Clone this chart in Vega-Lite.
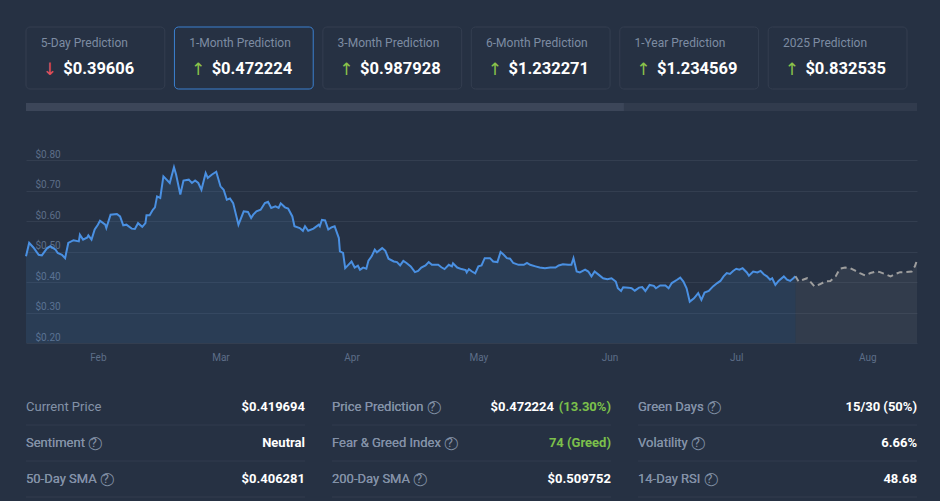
{
  "$schema": "https://vega.github.io/schema/vega-lite/v6.json",
  "background": "#263143",
  "padding": {"left": 22, "top": 26, "right": 23, "bottom": 5},
  "bounds": "flush",
  "spacing": 14,
  "config": {
    "view": {"stroke": null},
    "font": "Roboto",
    "text": {"font": "Roboto"},
    "axis": {"labelFont": "Roboto"}
  },
  "datasets": {
    "cards": [
      {"i": 0, "label": "5-Day Prediction", "value": "$0.39606", "trend": "down", "active": false},
      {"i": 1, "label": "1-Month Prediction", "value": "$0.472224", "trend": "up", "active": true},
      {"i": 2, "label": "3-Month Prediction", "value": "$0.987928", "trend": "up", "active": false},
      {"i": 3, "label": "6-Month Prediction", "value": "$1.232271", "trend": "up", "active": false},
      {"i": 4, "label": "1-Year Prediction", "value": "$1.234569", "trend": "up", "active": false},
      {"i": 5, "label": "2025 Prediction", "value": "$0.832535", "trend": "up", "active": false}
    ],
    "progress": [{"progress": 0.671}],
    "history": [
      {"date": "2024-01-15T00:00", "price": 0.485},
      {"date": "2024-01-15T18:00", "price": 0.529},
      {"date": "2024-01-16T18:00", "price": 0.514},
      {"date": "2024-01-18T00:00", "price": 0.490},
      {"date": "2024-01-18T18:00", "price": 0.488},
      {"date": "2024-01-20T00:00", "price": 0.512},
      {"date": "2024-01-20T18:00", "price": 0.518},
      {"date": "2024-01-22T00:00", "price": 0.507},
      {"date": "2024-01-22T12:00", "price": 0.496},
      {"date": "2024-01-23T12:00", "price": 0.490},
      {"date": "2024-01-24T06:00", "price": 0.479},
      {"date": "2024-01-25T00:00", "price": 0.529},
      {"date": "2024-01-26T06:00", "price": 0.538},
      {"date": "2024-01-27T12:00", "price": 0.534},
      {"date": "2024-01-27T18:00", "price": 0.556},
      {"date": "2024-01-28T12:00", "price": 0.540},
      {"date": "2024-01-29T12:00", "price": 0.547},
      {"date": "2024-01-29T18:00", "price": 0.554},
      {"date": "2024-01-30T12:00", "price": 0.540},
      {"date": "2024-01-31T06:00", "price": 0.573},
      {"date": "2024-02-01T00:00", "price": 0.589},
      {"date": "2024-02-01T12:00", "price": 0.602},
      {"date": "2024-02-02T18:00", "price": 0.589},
      {"date": "2024-02-03T00:00", "price": 0.578},
      {"date": "2024-02-04T00:00", "price": 0.622},
      {"date": "2024-02-05T12:00", "price": 0.624},
      {"date": "2024-02-06T06:00", "price": 0.616},
      {"date": "2024-02-07T00:00", "price": 0.587},
      {"date": "2024-02-07T18:00", "price": 0.589},
      {"date": "2024-02-09T00:00", "price": 0.576},
      {"date": "2024-02-09T18:00", "price": 0.575},
      {"date": "2024-02-10T12:00", "price": 0.594},
      {"date": "2024-02-11T12:00", "price": 0.582},
      {"date": "2024-02-12T06:00", "price": 0.594},
      {"date": "2024-02-12T12:00", "price": 0.620},
      {"date": "2024-02-13T06:00", "price": 0.620},
      {"date": "2024-02-14T00:00", "price": 0.638},
      {"date": "2024-02-14T12:00", "price": 0.646},
      {"date": "2024-02-15T00:00", "price": 0.682},
      {"date": "2024-02-15T18:00", "price": 0.677},
      {"date": "2024-02-16T12:00", "price": 0.748},
      {"date": "2024-02-17T06:00", "price": 0.737},
      {"date": "2024-02-18T00:00", "price": 0.726},
      {"date": "2024-02-19T00:00", "price": 0.778},
      {"date": "2024-02-19T12:00", "price": 0.754},
      {"date": "2024-02-20T12:00", "price": 0.688},
      {"date": "2024-02-21T06:00", "price": 0.734},
      {"date": "2024-02-22T12:00", "price": 0.737},
      {"date": "2024-02-23T06:00", "price": 0.726},
      {"date": "2024-02-24T00:00", "price": 0.734},
      {"date": "2024-02-24T18:00", "price": 0.726},
      {"date": "2024-02-25T12:00", "price": 0.704},
      {"date": "2024-02-26T12:00", "price": 0.759},
      {"date": "2024-02-27T00:00", "price": 0.743},
      {"date": "2024-02-28T00:00", "price": 0.754},
      {"date": "2024-02-29T00:00", "price": 0.763},
      {"date": "2024-03-01T00:00", "price": 0.715},
      {"date": "2024-03-01T18:00", "price": 0.704},
      {"date": "2024-03-02T12:00", "price": 0.671},
      {"date": "2024-03-03T06:00", "price": 0.675},
      {"date": "2024-03-04T00:00", "price": 0.660},
      {"date": "2024-03-05T06:00", "price": 0.589},
      {"date": "2024-03-06T12:00", "price": 0.633},
      {"date": "2024-03-07T12:00", "price": 0.631},
      {"date": "2024-03-08T06:00", "price": 0.611},
      {"date": "2024-03-08T18:00", "price": 0.622},
      {"date": "2024-03-09T12:00", "price": 0.633},
      {"date": "2024-03-10T12:00", "price": 0.638},
      {"date": "2024-03-11T12:00", "price": 0.660},
      {"date": "2024-03-12T06:00", "price": 0.664},
      {"date": "2024-03-13T00:00", "price": 0.644},
      {"date": "2024-03-14T00:00", "price": 0.649},
      {"date": "2024-03-14T18:00", "price": 0.644},
      {"date": "2024-03-15T06:00", "price": 0.659},
      {"date": "2024-03-16T06:00", "price": 0.646},
      {"date": "2024-03-17T00:00", "price": 0.642},
      {"date": "2024-03-18T00:00", "price": 0.616},
      {"date": "2024-03-18T12:00", "price": 0.584},
      {"date": "2024-03-19T18:00", "price": 0.578},
      {"date": "2024-03-20T12:00", "price": 0.569},
      {"date": "2024-03-21T00:00", "price": 0.584},
      {"date": "2024-03-21T18:00", "price": 0.569},
      {"date": "2024-03-23T00:00", "price": 0.576},
      {"date": "2024-03-24T06:00", "price": 0.589},
      {"date": "2024-03-24T12:00", "price": 0.584},
      {"date": "2024-03-25T00:00", "price": 0.605},
      {"date": "2024-03-25T18:00", "price": 0.603},
      {"date": "2024-03-26T12:00", "price": 0.573},
      {"date": "2024-03-27T06:00", "price": 0.580},
      {"date": "2024-03-28T00:00", "price": 0.584},
      {"date": "2024-03-29T00:00", "price": 0.545},
      {"date": "2024-03-29T06:00", "price": 0.501},
      {"date": "2024-03-30T00:00", "price": 0.496},
      {"date": "2024-03-30T12:00", "price": 0.446},
      {"date": "2024-03-31T06:00", "price": 0.457},
      {"date": "2024-04-01T00:00", "price": 0.468},
      {"date": "2024-04-01T18:00", "price": 0.448},
      {"date": "2024-04-02T12:00", "price": 0.454},
      {"date": "2024-04-03T00:00", "price": 0.441},
      {"date": "2024-04-03T18:00", "price": 0.448},
      {"date": "2024-04-04T12:00", "price": 0.444},
      {"date": "2024-04-05T00:00", "price": 0.471},
      {"date": "2024-04-05T18:00", "price": 0.485},
      {"date": "2024-04-06T12:00", "price": 0.507},
      {"date": "2024-04-07T00:00", "price": 0.498},
      {"date": "2024-04-08T06:00", "price": 0.512},
      {"date": "2024-04-09T00:00", "price": 0.503},
      {"date": "2024-04-09T18:00", "price": 0.477},
      {"date": "2024-04-11T00:00", "price": 0.468},
      {"date": "2024-04-11T18:00", "price": 0.466},
      {"date": "2024-04-12T12:00", "price": 0.455},
      {"date": "2024-04-13T06:00", "price": 0.470},
      {"date": "2024-04-14T00:00", "price": 0.463},
      {"date": "2024-04-15T00:00", "price": 0.452},
      {"date": "2024-04-16T00:00", "price": 0.433},
      {"date": "2024-04-16T18:00", "price": 0.437},
      {"date": "2024-04-17T12:00", "price": 0.448},
      {"date": "2024-04-18T12:00", "price": 0.455},
      {"date": "2024-04-19T06:00", "price": 0.466},
      {"date": "2024-04-20T00:00", "price": 0.457},
      {"date": "2024-04-20T18:00", "price": 0.457},
      {"date": "2024-04-21T12:00", "price": 0.457},
      {"date": "2024-04-22T06:00", "price": 0.449},
      {"date": "2024-04-23T00:00", "price": 0.443},
      {"date": "2024-04-24T00:00", "price": 0.457},
      {"date": "2024-04-24T18:00", "price": 0.452},
      {"date": "2024-04-25T00:00", "price": 0.462},
      {"date": "2024-04-26T00:00", "price": 0.448},
      {"date": "2024-04-27T00:00", "price": 0.443},
      {"date": "2024-04-28T00:00", "price": 0.440},
      {"date": "2024-04-28T06:00", "price": 0.432},
      {"date": "2024-04-28T18:00", "price": 0.443},
      {"date": "2024-04-29T12:00", "price": 0.435},
      {"date": "2024-04-30T06:00", "price": 0.429},
      {"date": "2024-05-01T00:00", "price": 0.452},
      {"date": "2024-05-01T18:00", "price": 0.455},
      {"date": "2024-05-02T12:00", "price": 0.479},
      {"date": "2024-05-03T18:00", "price": 0.479},
      {"date": "2024-05-04T12:00", "price": 0.468},
      {"date": "2024-05-05T12:00", "price": 0.466},
      {"date": "2024-05-06T06:00", "price": 0.499},
      {"date": "2024-05-07T00:00", "price": 0.490},
      {"date": "2024-05-07T18:00", "price": 0.479},
      {"date": "2024-05-08T12:00", "price": 0.477},
      {"date": "2024-05-09T06:00", "price": 0.463},
      {"date": "2024-05-10T12:00", "price": 0.457},
      {"date": "2024-05-11T18:00", "price": 0.457},
      {"date": "2024-05-12T12:00", "price": 0.463},
      {"date": "2024-05-13T06:00", "price": 0.457},
      {"date": "2024-05-14T12:00", "price": 0.452},
      {"date": "2024-05-15T12:00", "price": 0.448},
      {"date": "2024-05-16T18:00", "price": 0.446},
      {"date": "2024-05-18T00:00", "price": 0.448},
      {"date": "2024-05-19T06:00", "price": 0.448},
      {"date": "2024-05-20T00:00", "price": 0.455},
      {"date": "2024-05-21T00:00", "price": 0.459},
      {"date": "2024-05-22T06:00", "price": 0.457},
      {"date": "2024-05-23T00:00", "price": 0.457},
      {"date": "2024-05-23T12:00", "price": 0.479},
      {"date": "2024-05-24T06:00", "price": 0.435},
      {"date": "2024-05-25T00:00", "price": 0.432},
      {"date": "2024-05-26T06:00", "price": 0.441},
      {"date": "2024-05-27T00:00", "price": 0.435},
      {"date": "2024-05-27T18:00", "price": 0.419},
      {"date": "2024-05-28T12:00", "price": 0.435},
      {"date": "2024-05-29T12:00", "price": 0.424},
      {"date": "2024-05-30T12:00", "price": 0.413},
      {"date": "2024-05-31T12:00", "price": 0.410},
      {"date": "2024-06-01T12:00", "price": 0.413},
      {"date": "2024-06-02T12:00", "price": 0.402},
      {"date": "2024-06-03T00:00", "price": 0.380},
      {"date": "2024-06-03T18:00", "price": 0.371},
      {"date": "2024-06-04T06:00", "price": 0.383},
      {"date": "2024-06-05T12:00", "price": 0.382},
      {"date": "2024-06-06T06:00", "price": 0.380},
      {"date": "2024-06-07T00:00", "price": 0.372},
      {"date": "2024-06-08T00:00", "price": 0.382},
      {"date": "2024-06-08T18:00", "price": 0.384},
      {"date": "2024-06-09T12:00", "price": 0.371},
      {"date": "2024-06-10T12:00", "price": 0.391},
      {"date": "2024-06-11T12:00", "price": 0.388},
      {"date": "2024-06-12T00:00", "price": 0.380},
      {"date": "2024-06-13T00:00", "price": 0.389},
      {"date": "2024-06-14T06:00", "price": 0.389},
      {"date": "2024-06-15T00:00", "price": 0.380},
      {"date": "2024-06-15T18:00", "price": 0.397},
      {"date": "2024-06-17T00:00", "price": 0.408},
      {"date": "2024-06-17T18:00", "price": 0.415},
      {"date": "2024-06-18T12:00", "price": 0.402},
      {"date": "2024-06-19T06:00", "price": 0.380},
      {"date": "2024-06-20T00:00", "price": 0.336},
      {"date": "2024-06-21T00:00", "price": 0.347},
      {"date": "2024-06-22T00:00", "price": 0.364},
      {"date": "2024-06-22T18:00", "price": 0.342},
      {"date": "2024-06-23T12:00", "price": 0.366},
      {"date": "2024-06-24T12:00", "price": 0.371},
      {"date": "2024-06-25T12:00", "price": 0.386},
      {"date": "2024-06-26T12:00", "price": 0.397},
      {"date": "2024-06-27T06:00", "price": 0.404},
      {"date": "2024-06-28T00:00", "price": 0.419},
      {"date": "2024-06-28T18:00", "price": 0.430},
      {"date": "2024-06-29T12:00", "price": 0.427},
      {"date": "2024-06-30T06:00", "price": 0.437},
      {"date": "2024-07-01T00:00", "price": 0.444},
      {"date": "2024-07-01T18:00", "price": 0.441},
      {"date": "2024-07-02T12:00", "price": 0.446},
      {"date": "2024-07-03T12:00", "price": 0.432},
      {"date": "2024-07-04T00:00", "price": 0.421},
      {"date": "2024-07-05T00:00", "price": 0.435},
      {"date": "2024-07-06T00:00", "price": 0.432},
      {"date": "2024-07-06T18:00", "price": 0.437},
      {"date": "2024-07-07T12:00", "price": 0.426},
      {"date": "2024-07-08T06:00", "price": 0.419},
      {"date": "2024-07-09T00:00", "price": 0.408},
      {"date": "2024-07-09T12:00", "price": 0.413},
      {"date": "2024-07-10T06:00", "price": 0.391},
      {"date": "2024-07-11T00:00", "price": 0.404},
      {"date": "2024-07-12T06:00", "price": 0.419},
      {"date": "2024-07-13T00:00", "price": 0.408},
      {"date": "2024-07-13T18:00", "price": 0.404},
      {"date": "2024-07-14T12:00", "price": 0.413},
      {"date": "2024-07-15T00:00", "price": 0.4197}
    ],
    "forecast": [
      {"date": "2024-07-15T00:00", "price": 0.4197},
      {"date": "2024-07-15T18:00", "price": 0.402},
      {"date": "2024-07-16T18:00", "price": 0.408},
      {"date": "2024-07-17T18:00", "price": 0.413},
      {"date": "2024-07-18T12:00", "price": 0.402},
      {"date": "2024-07-19T12:00", "price": 0.386},
      {"date": "2024-07-20T18:00", "price": 0.393},
      {"date": "2024-07-22T00:00", "price": 0.402},
      {"date": "2024-07-23T06:00", "price": 0.404},
      {"date": "2024-07-24T12:00", "price": 0.419},
      {"date": "2024-07-25T12:00", "price": 0.444},
      {"date": "2024-07-26T18:00", "price": 0.448},
      {"date": "2024-07-28T00:00", "price": 0.446},
      {"date": "2024-07-29T06:00", "price": 0.437},
      {"date": "2024-07-30T06:00", "price": 0.430},
      {"date": "2024-07-31T12:00", "price": 0.422},
      {"date": "2024-08-01T18:00", "price": 0.430},
      {"date": "2024-08-03T00:00", "price": 0.435},
      {"date": "2024-08-04T00:00", "price": 0.433},
      {"date": "2024-08-05T06:00", "price": 0.426},
      {"date": "2024-08-06T12:00", "price": 0.419},
      {"date": "2024-08-07T12:00", "price": 0.426},
      {"date": "2024-08-08T18:00", "price": 0.433},
      {"date": "2024-08-10T00:00", "price": 0.433},
      {"date": "2024-08-11T12:00", "price": 0.435},
      {"date": "2024-08-12T06:00", "price": 0.452},
      {"date": "2024-08-12T18:00", "price": 0.4722}
    ],
    "stats": [
      {"col": 0, "row": 0, "label": "Current Price", "help": false, "value": "$0.419694", "extra": "", "tone": "plain"},
      {"col": 0, "row": 1, "label": "Sentiment", "help": true, "value": "Neutral", "extra": "", "tone": "plain"},
      {"col": 0, "row": 2, "label": "50-Day SMA", "help": true, "value": "$0.406281", "extra": "", "tone": "plain"},
      {"col": 1, "row": 0, "label": "Price Prediction", "help": true, "value": "$0.472224", "extra": "(13.30%)", "tone": "plain"},
      {"col": 1, "row": 1, "label": "Fear & Greed Index", "help": true, "value": "74 (Greed)", "extra": "", "tone": "good"},
      {"col": 1, "row": 2, "label": "200-Day SMA", "help": true, "value": "$0.509752", "extra": "", "tone": "plain"},
      {"col": 2, "row": 0, "label": "Green Days", "help": true, "value": "15/30 (50%)", "extra": "", "tone": "plain"},
      {"col": 2, "row": 1, "label": "Volatility", "help": true, "value": "6.66%", "extra": "", "tone": "plain"},
      {"col": 2, "row": 2, "label": "14-Day RSI", "help": true, "value": "48.68", "extra": "", "tone": "plain"}
    ]
  },
  "vconcat": [
    {
      "width": 881,
      "height": 62,
      "data": {"name": "cards"},
      "transform": [{"calculate": "datum.trend == 'up' ? '\u2191' : '\u2193'", "as": "arrow"}],
      "layer": [
        {
          "mark": {"type": "rect", "fill": "#263143", "cornerRadius": 4, "strokeWidth": 1},
          "encoding": {
            "x": {"field": "i", "type": "ordinal", "scale": {"paddingInner": 0.065, "paddingOuter": 0}, "axis": null},
            "stroke": {"condition": {"test": "datum.active", "value": "#3b80d0"}, "value": "#343e50"}
          }
        },
        {
          "mark": {"type": "text", "align": "left", "baseline": "alphabetic", "fontSize": 12, "color": "#7d8ca2"},
          "encoding": {
            "x": {"field": "i", "type": "ordinal", "bandPosition": 0.106},
            "y": {"datum": 0.33, "type": "quantitative", "scale": {"domain": [0, 1], "reverse": true, "nice": false}, "axis": null},
            "text": {"field": "label"}
          }
        },
        {
          "mark": {"type": "text", "align": "center", "baseline": "alphabetic", "fontSize": 17, "font": "DejaVu Sans"},
          "encoding": {
            "x": {"field": "i", "type": "ordinal", "bandPosition": 0.17},
            "y": {"datum": 0.77, "type": "quantitative"},
            "text": {"field": "arrow"},
            "color": {"condition": {"test": "datum.trend == 'up'", "value": "#8bc34a"}, "value": "#e2515e"}
          }
        },
        {
          "mark": {"type": "text", "align": "left", "baseline": "alphabetic", "fontSize": 16.5, "fontWeight": "bold", "color": "#ffffff"},
          "encoding": {
            "x": {"field": "i", "type": "ordinal", "bandPosition": 0.268},
            "y": {"datum": 0.76, "type": "quantitative"},
            "text": {"field": "value"}
          }
        }
      ]
    },
    {
      "width": 891,
      "height": 8,
      "data": {"name": "progress"},
      "layer": [
        {
          "mark": {"type": "rect", "fill": "#313b4d"},
          "encoding": {
            "x": {"datum": 1, "type": "quantitative", "scale": {"domain": [0, 1], "nice": false}, "axis": null},
            "x2": {"datum": 0}
          }
        },
        {
          "mark": {"type": "rect", "fill": "#3c4659"},
          "encoding": {
            "x": {"field": "progress", "type": "quantitative"},
            "x2": {"datum": 0}
          }
        }
      ]
    },
    {
      "width": 891,
      "height": 218,
      "encoding": {
        "x": {
          "field": "date", "type": "temporal",
          "scale": {"nice": false},
          "axis": {"format": "%b", "tickCount": "month", "domain": false, "ticks": false, "tickSize": 0, "grid": false, "labelColor": "#5d6e88", "labelFontSize": 10, "labelPadding": 9, "labelOverlap": false, "labelFlush": false, "title": null}
        },
        "y": {
          "field": "price", "type": "quantitative",
          "scale": {"domain": [0.2, 0.9167], "zero": false, "nice": false},
          "axis": {"values": [0.2, 0.3, 0.4, 0.5, 0.6, 0.7, 0.8], "labelExpr": "'$' + format(datum.value, '.2f')", "domain": false, "ticks": false, "tickSize": 0, "grid": true, "gridColor": "#333e50", "gridWidth": 1, "labelAlign": "left", "labelBaseline": "bottom", "labelPadding": -9, "labelOffset": -1, "labelColor": "#5d6e88", "labelFontSize": 10, "title": null}
        }
      },
      "layer": [
        {"data": {"name": "history"}, "mark": {"type": "area", "color": "#4a90e2", "opacity": 0.12, "clip": true}},
        {"data": {"name": "forecast"}, "mark": {"type": "area", "color": "#a0a0a0", "opacity": 0.1, "clip": true}},
        {"data": {"name": "history"}, "mark": {"type": "line", "color": "#4a90e2", "strokeWidth": 2}},
        {"data": {"name": "forecast"}, "mark": {"type": "line", "color": "#9e9e9e", "strokeWidth": 2, "strokeDash": [6, 4]}}
      ]
    },
    {
      "data": {"name": "stats"},
      "bounds": "flush",
      "spacing": 27,
      "facet": {"column": {"field": "col", "type": "ordinal", "title": null, "header": {"labels": false, "title": null}}},
      "spec": {
        "width": 279,
        "height": 140,
        "transform": [
          {"calculate": "datum.help ? datum.label + ' \u2009?' : datum.label", "as": "shown"},
          {"calculate": "datum.label + ' \u25ef'", "as": "ring"}
        ],
        "encoding": {
          "y": {"field": "row", "type": "ordinal", "scale": {"paddingInner": 0, "paddingOuter": 0.4444, "align": 1}, "axis": null}
        },
        "layer": [
          {
            "mark": {"type": "rule", "color": "#323c4e", "strokeWidth": 1},
            "encoding": {"y": {"field": "row", "type": "ordinal", "bandPosition": 1}}
          },
          {
            "mark": {"type": "text", "align": "left", "baseline": "middle", "fontSize": 13, "color": "#8391a7"},
            "encoding": {
              "x": {"datum": 0, "type": "quantitative", "scale": {"domain": [0, 1], "nice": false}, "axis": null},
              "text": {"field": "shown"}
            }
          },
          {
            "transform": [{"filter": "datum.help"}],
            "mark": {"type": "text", "align": "left", "baseline": "middle", "fontSize": 13, "color": "#8391a7"},
            "encoding": {
              "x": {"datum": 0, "type": "quantitative"},
              "text": {"field": "ring"}
            }
          },
          {
            "transform": [{"filter": "datum.extra == ''"}],
            "mark": {"type": "text", "align": "right", "baseline": "middle", "fontSize": 13, "fontWeight": "bold"},
            "encoding": {
              "x": {"datum": 1, "type": "quantitative"},
              "text": {"field": "value"},
              "color": {"condition": {"test": "datum.tone == 'good'", "value": "#7cc04b"}, "value": "#ffffff"}
            }
          },
          {
            "transform": [{"filter": "datum.extra != ''"}],
            "mark": {"type": "text", "align": "right", "baseline": "middle", "fontSize": 13, "fontWeight": "bold", "color": "#ffffff", "dx": -57},
            "encoding": {
              "x": {"datum": 1, "type": "quantitative"},
              "text": {"field": "value"}
            }
          },
          {
            "transform": [{"filter": "datum.extra != ''"}],
            "mark": {"type": "text", "align": "right", "baseline": "middle", "fontSize": 13, "fontWeight": "bold", "color": "#7cc04b"},
            "encoding": {
              "x": {"datum": 1, "type": "quantitative"},
              "text": {"field": "extra"}
            }
          }
        ]
      }
    }
  ]
}
